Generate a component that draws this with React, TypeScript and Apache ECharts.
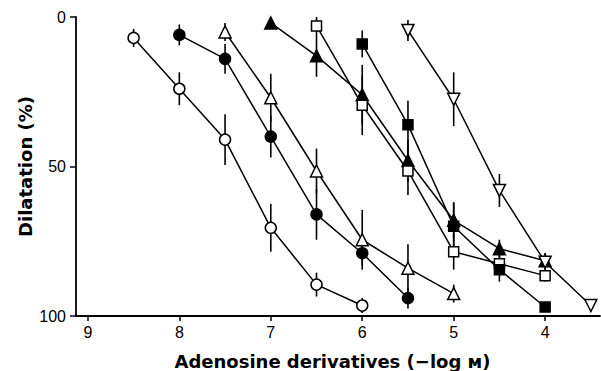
import React, { useEffect, useRef } from "react";
import * as echarts from "echarts";

// Tick values
const X_TICKS = [9, 8, 7, 6, 5, 4];
const Y_TICKS = [0, 50, 100];

// Open circles
const openCircleX = [8.5, 8, 7.5, 7, 6.5, 6];
const openCircleY = [7, 24, 41, 70.5, 89.5, 96.5];
const openCircleErr = [3, 5.5, 8.5, 8, 4, 2.5];

// Filled circles
const filledCircleX = [8, 7.5, 7, 6.5, 6, 5.5];
const filledCircleY = [6, 14, 40, 66, 79, 94];
const filledCircleErr = [3.5, 5, 7, 8.5, 4, 3.5];

// Open triangles (up)
const openTriX = [7.5, 7, 6.5, 6, 5.5, 5];
const openTriY = [5, 27, 51.5, 74.5, 84, 92.5];
const openTriErr = [3, 8, 7.5, 10, 8, 3];

// Filled triangles (up)
const filledTriX = [7, 6.5, 6, 5.5, 5, 4.5, 4];
const filledTriY = [2, 13, 26, 48, 68, 77.5, 81.5];
const filledTriErr = [0, 7, 10, 7, 6, 3, 2.5];

// Open squares
const openSqX = [6.5, 6, 5.5, 5, 4.5, 4];
const openSqY = [3, 29.5, 51.5, 78.5, 82.5, 86.5];
const openSqErr = [3, 10, 8, 6, 3, 2];

// Filled squares
const filledSqX = [6, 5.5, 5, 4.5, 4];
const filledSqY = [9, 36, 70, 84.5, 97];
const filledSqErr = [4.5, 8, 8, 4, 1.5];

// Open triangles (down)
const openTriDownX = [5.5, 5, 4.5, 4, 3.5];
const openTriDownY = [4.5, 27.5, 58, 82, 96.5];
const openTriDownErr = [3.5, 9, 5.5, 3, 0];

const seriesDefs = [
  { name: "Open circle", x: openCircleX, y: openCircleY, err: openCircleErr, symbol: "circle", filled: false, size: 11, rotate: 0 },
  { name: "Filled circle", x: filledCircleX, y: filledCircleY, err: filledCircleErr, symbol: "circle", filled: true, size: 11, rotate: 0 },
  { name: "Open triangle", x: openTriX, y: openTriY, err: openTriErr, symbol: "triangle", filled: false, size: 12, rotate: 0 },
  { name: "Filled triangle", x: filledTriX, y: filledTriY, err: filledTriErr, symbol: "triangle", filled: true, size: 12, rotate: 0 },
  { name: "Open square", x: openSqX, y: openSqY, err: openSqErr, symbol: "rect", filled: false, size: 10, rotate: 0 },
  { name: "Filled square", x: filledSqX, y: filledSqY, err: filledSqErr, symbol: "rect", filled: true, size: 10, rotate: 0 },
  { name: "Open inverted triangle", x: openTriDownX, y: openTriDownY, err: openTriDownErr, symbol: "triangle", filled: false, size: 12, rotate: 180 },
];

export default function App() {
  const ref = useRef<HTMLDivElement>(null);

  useEffect(() => {
    if (!ref.current) return;
    const chart = echarts.init(ref.current, undefined, { renderer: "svg" });
    const black = "#000";
    const series: any[] = [];
    seriesDefs.forEach((d) => {
      series.push({
        type: "custom",
        name: d.name + " SEM",
        silent: true,
        z: 1,
        data: d.x.map((x, i) => [x, d.y[i] - d.err[i], d.y[i] + d.err[i]]),
        renderItem: (params: any, api: any) => {
          const p1 = api.coord([api.value(0), api.value(1)]);
          const p2 = api.coord([api.value(0), api.value(2)]);
          return {
            type: "line",
            shape: { x1: p1[0], y1: p1[1], x2: p2[0], y2: p2[1] },
            style: { stroke: black, lineWidth: 1.6 },
          };
        },
      });
      series.push({
        type: "line",
        name: d.name,
        z: 2,
        data: d.x.map((x, i) => [x, d.y[i]]),
        symbol: d.symbol,
        symbolSize: d.size,
        symbolRotate: d.rotate,
        showSymbol: true,
        lineStyle: { color: black, width: 1.5 },
        itemStyle: { color: d.filled ? black : "#fff", borderColor: black, borderWidth: 1.5 },
        emphasis: { disabled: true },
      });
    });

    chart.setOption({
      animation: false,
      grid: { left: 76, right: 1, top: 17, bottom: 55, containLabel: false, outerBoundsMode: "none" },
      xAxis: {
        type: "value",
        position: "bottom",
        inverse: true,
        min: 3.4,
        max: 9.13,
        axisLine: { show: true, onZero: false, lineStyle: { color: black, width: 1.8 } },
        axisTick: { show: true, customValues: X_TICKS, length: 5, lineStyle: { color: black, width: 1.5 } },
        axisLabel: { customValues: X_TICKS, margin: 8, fontSize: 16, color: black, fontFamily: "Liberation Sans" },
        splitLine: { show: false },
        name: "Adenosine derivatives (\u2212log \u043c)",
        nameLocation: "middle",
        nameGap: 36,
        nameMoveOverlap: false,
        nameTextStyle: { fontSize: 18, fontWeight: "bold", color: black, fontFamily: "DejaVu Sans", padding: [0, 11, 0, 0] },
      },
      yAxis: {
        type: "value",
        position: "left",
        inverse: true,
        min: 0,
        max: 100,
        interval: 50,
        axisLine: { show: true, onZero: false, lineStyle: { color: black, width: 1.8 } },
        axisTick: { show: true, length: 6, lineStyle: { color: black, width: 1.5 } },
        axisLabel: { margin: 10, fontSize: 16, color: black, fontFamily: "Liberation Sans" },
        splitLine: { show: false },
        name: "Dilatation (%)",
        nameLocation: "middle",
        nameRotate: 90,
        nameGap: 42,
        nameMoveOverlap: false,
        nameTextStyle: { fontSize: 18, fontWeight: "bold", color: black, fontFamily: "DejaVu Sans" },
      },
      series,
    });
    return () => chart.dispose();
  }, []);

  return (
    <div
      ref={ref}
      style={{ position: "fixed", left: 0, top: 0, width: 601, height: 371, background: "#fff" }}
    />
  );
}
